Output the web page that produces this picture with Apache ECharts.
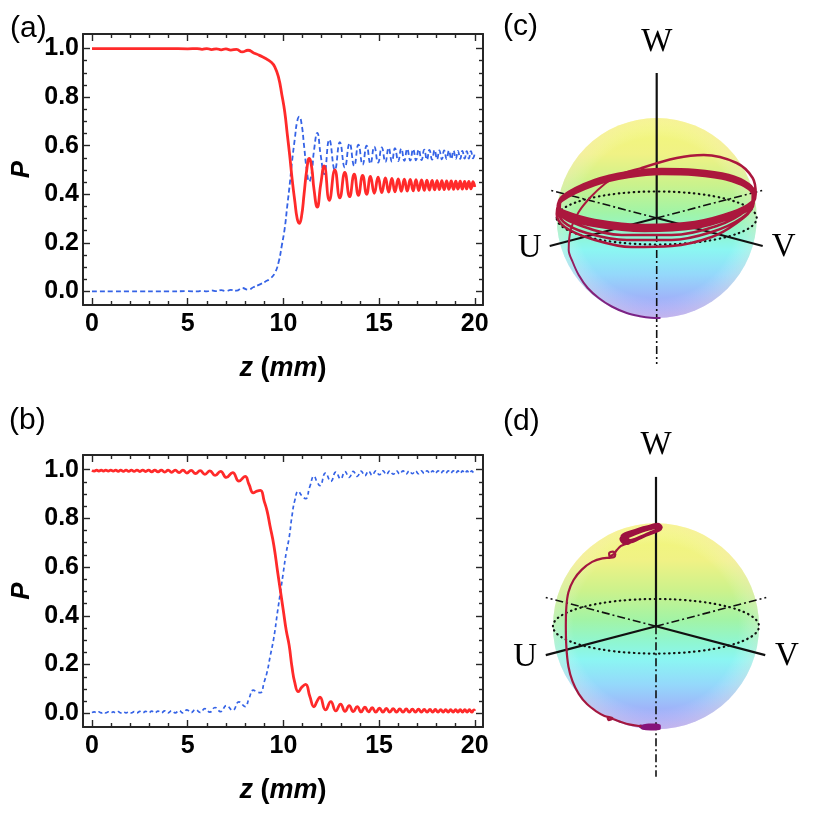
<!DOCTYPE html>
<html>
<head>
<meta charset="utf-8">
<title>Populations P(z) and Bloch sphere trajectories</title>
<script src="https://cdn.jsdelivr.net/npm/echarts@6.0.0/dist/echarts.min.js"></script>
<style>
  html, body { margin: 0; padding: 0; background: #fff; }
  #chart { width: 830px; height: 829px; }
</style>
</head>
<body>
<div id="chart"></div>
<script>
// ---------- tick values ----------
var zMajor = [0, 5, 10, 15, 20];
var zMinor = [1, 2, 3, 4, 6, 7, 8, 9, 11, 12, 13, 14, 16, 17, 18, 19];
var pMajor = [0, 0.2, 0.4, 0.6, 0.8, 1.0];
var pMinor = [0.05, 0.1, 0.15, 0.25, 0.3, 0.35, 0.45, 0.5, 0.55, 0.65, 0.7, 0.75, 0.85, 0.9, 0.95];

// ---------- panel (a): [z (mm), P] ----------
var redA = [[0,1.0],[2,1.0],[4,1.0],[5,0.999],[5.5,1.0],[5.75,0.997],[6.0,1.0],[6.25,0.996],[6.5,0.999],[6.75,0.995],
  [7.0,0.999],[7.25,0.994],[7.55,0.997],[7.85,0.986],[8.15,0.993],[8.45,0.982],[8.75,0.972],[9.05,0.96],[9.35,0.945],
  [9.55,0.925],[9.75,0.88],[9.92,0.81],[10.07,0.74],[10.2,0.65],[10.33,0.56],[10.46,0.46],[10.6,0.37],[10.72,0.30],
  [10.83,0.28],[10.95,0.31],[11.08,0.40],[11.22,0.50],[11.35,0.548],[11.48,0.51],[11.6,0.42],[11.77,0.347],[11.95,0.44],
  [12.13,0.517],[12.4,0.375],[12.69,0.50],[12.95,0.385],[13.21,0.49],[13.46,0.39],[13.7,0.483],[13.92,0.396],[14.14,0.478],
  [14.35,0.400],[14.55,0.474],[14.75,0.404],[14.95,0.470],[15.14,0.407],[15.33,0.467],[15.5,0.409],[15.67,0.465],[15.83,0.41],
  [16.0,0.463],[16.16,0.412],[16.32,0.462],[16.47,0.413],[16.63,0.461],[16.78,0.414],[16.93,0.460],[17.07,0.415],[17.22,0.459],
  [17.36,0.416],[17.5,0.458],[17.63,0.417],[17.77,0.457],[17.9,0.418],[18.03,0.456],[18.15,0.419],[18.28,0.456],[18.4,0.419],
  [18.53,0.455],[18.65,0.42],[18.77,0.455],[18.89,0.42],[19.01,0.454],[19.12,0.421],[19.24,0.454],[19.35,0.421],[19.47,0.453],
  [19.58,0.422],[19.69,0.453],[19.8,0.422],[19.91,0.452],[20.0,0.43]];
var blueA = [[0,0.0],[2,0.0],[4,0.0],[5,0.001],[5.5,0.0],[5.75,0.003],[6.0,0.0],[6.25,0.004],[6.5,0.001],[6.75,0.005],
  [7.0,0.001],[7.25,0.006],[7.55,0.003],[7.85,0.014],[8.15,0.007],[8.45,0.018],[8.75,0.028],[9.05,0.04],[9.35,0.055],
  [9.55,0.075],[9.75,0.12],[9.92,0.19],[10.07,0.26],[10.2,0.35],[10.33,0.44],[10.46,0.54],[10.6,0.63],[10.72,0.70],
  [10.83,0.72],[10.95,0.69],[11.08,0.60],[11.22,0.50],[11.35,0.452],[11.48,0.49],[11.6,0.58],[11.77,0.653],[11.95,0.56],
  [12.13,0.483],[12.4,0.625],[12.69,0.50],[12.95,0.615],[13.21,0.51],[13.46,0.61],[13.7,0.517],[13.92,0.604],[14.14,0.522],
  [14.35,0.600],[14.55,0.526],[14.75,0.596],[14.95,0.530],[15.14,0.593],[15.33,0.533],[15.5,0.591],[15.67,0.535],[15.83,0.59],
  [16.0,0.537],[16.16,0.588],[16.32,0.538],[16.47,0.587],[16.63,0.539],[16.78,0.586],[16.93,0.540],[17.07,0.585],[17.22,0.541],
  [17.36,0.584],[17.5,0.542],[17.63,0.583],[17.77,0.543],[17.9,0.582],[18.03,0.544],[18.15,0.581],[18.28,0.544],[18.4,0.581],
  [18.53,0.545],[18.65,0.58],[18.77,0.545],[18.89,0.58],[19.01,0.546],[19.12,0.579],[19.24,0.546],[19.35,0.579],[19.47,0.547],
  [19.58,0.578],[19.69,0.547],[19.8,0.578],[19.91,0.548],[20.0,0.57]];

// ---------- panel (b): [z (mm), P] ----------
var redB = [[0,0.997],[0.12,0.994],[0.24,0.998],[0.36,0.994],[0.48,0.998],[0.6,0.994],[0.72,0.998],[0.85,0.994],[0.98,0.998],
  [1.11,0.994],[1.24,0.998],[1.37,0.993],[1.5,0.998],[1.64,0.993],[1.78,0.998],[1.92,0.993],[2.06,0.998],[2.2,0.993],[2.35,0.998],
  [2.5,0.992],[2.65,0.998],[2.8,0.992],[2.96,0.998],[3.12,0.991],[3.28,0.998],[3.45,0.991],[3.62,0.998],[3.8,0.990],[3.98,0.998],
  [4.16,0.989],[4.35,0.998],[4.55,0.988],[4.75,0.998],[4.96,0.986],[5.18,0.997],[5.41,0.984],[5.65,0.996],[5.9,0.981],[6.16,0.995],
  [6.43,0.976],[6.72,0.993],[7.02,0.968],[7.35,0.988],[7.68,0.953],[8.0,0.972],[8.2,0.94],[8.43,0.905],[8.62,0.912],[8.8,0.915],
  [9.0,0.87],[9.15,0.83],[9.3,0.77],[9.5,0.69],[9.7,0.58],[9.85,0.50],[10.0,0.42],[10.15,0.34],[10.3,0.28],[10.45,0.19],
  [10.6,0.125],[10.78,0.089],[10.97,0.108],[11.16,0.119],[11.38,0.07],[11.6,0.027],[11.76,0.05],[11.91,0.066],[12.2,0.014],
  [12.48,0.048],[12.74,0.01],[12.99,0.038],[13.22,0.008],[13.44,0.032],[13.65,0.007],[13.86,0.028],[14.06,0.006],[14.26,0.025],
  [14.45,0.006],[14.64,0.023],[14.83,0.005],[15.02,0.021],[15.2,0.005],[15.38,0.02],[15.56,0.005],[15.74,0.019],[15.91,0.005],
  [16.08,0.018],[16.25,0.005],[16.42,0.018],[16.58,0.005],[16.74,0.017],[16.9,0.005],[17.06,0.017],[17.21,0.005],[17.36,0.016],
  [17.51,0.005],[17.66,0.016],[17.8,0.005],[17.94,0.016],[18.08,0.005],[18.22,0.015],[18.35,0.005],[18.48,0.015],[18.61,0.005],
  [18.74,0.015],[18.87,0.005],[19.0,0.015],[19.12,0.005],[19.24,0.015],[19.36,0.005],[19.48,0.015],[19.6,0.005],[19.72,0.015],
  [19.84,0.005],[19.96,0.014],[20.0,0.01]];
var blueB = [[0,0.003],[0.12,0.006],[0.24,0.002],[0.36,0.006],[0.48,0.002],[0.6,0.006],[0.72,0.002],[0.85,0.006],[0.98,0.002],
  [1.11,0.006],[1.24,0.002],[1.37,0.007],[1.5,0.002],[1.64,0.007],[1.78,0.002],[1.92,0.007],[2.06,0.002],[2.2,0.007],[2.35,0.002],
  [2.5,0.008],[2.65,0.002],[2.8,0.008],[2.96,0.002],[3.12,0.009],[3.28,0.002],[3.45,0.009],[3.62,0.002],[3.8,0.010],[3.98,0.002],
  [4.16,0.011],[4.35,0.002],[4.55,0.012],[4.75,0.002],[4.96,0.014],[5.18,0.003],[5.41,0.016],[5.65,0.004],[5.9,0.019],[6.16,0.005],
  [6.43,0.024],[6.72,0.007],[7.02,0.032],[7.35,0.012],[7.68,0.047],[8.0,0.028],[8.2,0.06],[8.43,0.095],[8.62,0.088],[8.8,0.085],
  [9.0,0.13],[9.15,0.17],[9.3,0.23],[9.5,0.31],[9.7,0.42],[9.85,0.50],[10.0,0.58],[10.15,0.66],[10.3,0.72],[10.45,0.81],
  [10.6,0.875],[10.78,0.911],[10.97,0.892],[11.16,0.881],[11.38,0.93],[11.6,0.973],[11.76,0.95],[11.91,0.934],[12.2,0.986],
  [12.48,0.952],[12.74,0.99],[12.99,0.962],[13.22,0.992],[13.44,0.968],[13.65,0.993],[13.86,0.972],[14.06,0.994],[14.26,0.975],
  [14.45,0.994],[14.64,0.977],[14.83,0.995],[15.02,0.979],[15.2,0.995],[15.38,0.98],[15.56,0.995],[15.74,0.981],[15.91,0.995],
  [16.08,0.982],[16.25,0.995],[16.42,0.982],[16.58,0.995],[16.74,0.983],[16.9,0.995],[17.06,0.983],[17.21,0.995],[17.36,0.984],
  [17.51,0.995],[17.66,0.984],[17.8,0.995],[17.94,0.984],[18.08,0.995],[18.22,0.985],[18.35,0.995],[18.48,0.985],[18.61,0.995],
  [18.74,0.985],[18.87,0.995],[19.0,0.985],[19.12,0.995],[19.24,0.985],[19.36,0.995],[19.48,0.985],[19.6,0.995],[19.72,0.985],
  [19.84,0.995],[19.96,0.986],[20.0,0.99]];

// ---------- Bloch trajectories, projected sphere units [horizontal, vertical] ----------
var trajCAscent = [[0.03,-1.0],[-0.06,-0.998],[-0.17,-0.982],[-0.3,-0.95],[-0.45,-0.885],[-0.58,-0.8],[-0.69,-0.7],
  [-0.78,-0.57],[-0.84,-0.44],[-0.88,-0.32],[-0.86,-0.12],[-0.78,0.06],[-0.66,0.21],[-0.52,0.34],[-0.38,0.43],[-0.15,0.5]];
var trajCLoops = [[-0.15,0.5],[0.2,0.6],[0.47,0.63],[0.8,0.55],[0.96,0.4],[0.99,0.24],[0.9,0.08],[0.6,-0.08],[0.15,-0.17],
  [-0.35,-0.17],[-0.75,-0.08],[-0.97,0.06],
  [-0.96,0.18],[-0.62,0.36],[-0.28,0.44],[0.05,0.47],[0.38,0.46],[0.72,0.41],[0.92,0.32],[0.97,0.22],[0.94,0.13],[0.75,0.03],
  [0.38,-0.07],[-0.12,-0.10],[-0.62,-0.05],[-0.92,0.04],[-0.99,0.1],
  [-0.94,0.22],[-0.62,0.38],[-0.28,0.46],[0.05,0.49],[0.38,0.48],[0.72,0.43],[0.92,0.34],[0.975,0.25],[0.95,0.16],[0.76,0.06],
  [0.38,-0.04],[-0.12,-0.07],[-0.62,-0.02],[-0.93,0.07],[-0.99,0.12],
  [-0.9,0.24],[-0.55,0.39],[-0.1,0.45],[0.35,0.44],[0.75,0.37],[0.96,0.24],[0.95,0.1],[0.8,-0.05],[0.55,-0.19],[0.15,-0.28],
  [-0.25,-0.29],[-0.65,-0.21],[-0.92,-0.09],[-1.0,0.04],
  [-0.95,0.17],[-0.62,0.33],[-0.28,0.41],[0.05,0.44],[0.38,0.43],[0.72,0.38],[0.92,0.29],[0.97,0.19],[0.94,0.10],[0.74,0.0],
  [0.38,-0.10],[-0.12,-0.13],[-0.62,-0.08],[-0.93,0.01],[-0.99,0.08],
  [-0.93,0.2],[-0.62,0.35],[-0.28,0.43],[0.05,0.46],[0.38,0.45],[0.72,0.40],[0.92,0.31],[0.97,0.21],[0.945,0.12],[0.75,0.02],
  [0.38,-0.08],[-0.12,-0.11],[-0.62,-0.06],[-0.92,0.03],[-0.99,0.09],
  [-0.93,0.21],[-0.6,0.37],[-0.2,0.45],[0.25,0.46],[0.65,0.41],[0.93,0.29],[0.97,0.15],[0.85,0.0],[0.55,-0.14],[0.15,-0.22],
  [-0.3,-0.22],[-0.7,-0.15],[-0.93,-0.04],[-0.99,0.1],
  [-0.93,0.21],[-0.62,0.37],[-0.28,0.45],[0.05,0.48],[0.38,0.47],[0.72,0.42],[0.92,0.33],[0.97,0.23],[0.95,0.14],[0.75,0.04],
  [0.38,-0.06],[-0.12,-0.09],[-0.62,-0.04],[-0.92,0.05],[-0.98,0.11]];

var trajDBottom = [[0.03,-0.99],[-0.05,-0.995],[-0.14,-0.98],[-0.07,-0.96],[0.03,-0.965],[0.03,-0.985],[-0.07,-0.985],[-0.15,-0.97]];
var trajDAscent = [[-0.15,-0.97],[-0.25,-0.955],[-0.35,-0.925],[-0.43,-0.895],[-0.47,-0.88],[-0.46,-0.91],[-0.42,-0.895],
  [-0.5,-0.87],[-0.58,-0.825],[-0.67,-0.755],[-0.75,-0.655],[-0.81,-0.535],[-0.85,-0.39],[-0.87,-0.2],[-0.875,0.0],[-0.87,0.19],
  [-0.85,0.33],[-0.8,0.45],[-0.72,0.55],[-0.62,0.625],[-0.52,0.66],[-0.45,0.665],[-0.41,0.67],[-0.395,0.7],[-0.42,0.725],
  [-0.455,0.71],[-0.45,0.68],[-0.41,0.7],[-0.38,0.74],[-0.34,0.78],[-0.3,0.795],[-0.26,0.82],[-0.28,0.855],[-0.32,0.845],
  [-0.31,0.81],[-0.27,0.8],[-0.24,0.83]];
var trajDTop = [[-0.24,0.83],[-0.33,0.86],[-0.2,0.925],[-0.06,0.965],[0.03,0.985],[0.045,0.95],[-0.08,0.895],[-0.22,0.83],
  [-0.31,0.81],[-0.34,0.85],[-0.22,0.91],[-0.1,0.955],[0.02,0.99],[0.05,0.96],[-0.05,0.91],[-0.2,0.845],[-0.31,0.82],
  [-0.33,0.87],[-0.2,0.93],[-0.06,0.97],[0.03,0.975],[0.02,0.935],[-0.12,0.875],[-0.27,0.815],[-0.32,0.835],[-0.2,0.9],
  [-0.05,0.95],[0.04,0.97]];

// ---------- style ----------
var FRAME = '#262626';
var SANS = "'Liberation Sans', Arial, sans-serif";
var SERIF = "'Liberation Serif', 'Times New Roman', serif";
var RED = '#ff2a2a';
var BLUE = '#3563e6';
var TRAJ = '#ab173d';
var Z_MIN = -0.47, Z_MAX = 20.43, P_MIN = -0.056, P_MAX = 1.06;
var S_MIN = -1.65, S_MAX = 1.65;

function xAx(g, pos, ticks, len, labeled, line) {
  return {
    gridIndex: g, type: 'value', position: pos, min: Z_MIN, max: Z_MAX,
    splitLine: { show: false },
    axisLine: { show: line, onZero: false, lineStyle: { color: FRAME, width: 2 } },
    axisTick: { show: true, inside: true, length: len, customValues: ticks, lineStyle: { color: FRAME, width: 1.4 } },
    axisLabel: labeled ? {
      show: true, customValues: ticks, margin: 7, color: '#000',
      fontFamily: SANS, fontWeight: 'bold', fontSize: 25
    } : { show: false },
    name: labeled ? '{i|z }{n|(}{i|mm}{n|)}' : '',
    nameLocation: 'middle', nameGap: 50,
    nameTextStyle: {
      rich: {
        i: { fontFamily: SANS, fontWeight: 'bold', fontStyle: 'italic', fontSize: 27, color: '#000' },
        n: { fontFamily: SANS, fontWeight: 'bold', fontSize: 27, color: '#000' }
      }
    }
  };
}
function yAx(g, pos, ticks, len, labeled, line) {
  return {
    gridIndex: g, type: 'value', position: pos, min: P_MIN, max: P_MAX,
    splitLine: { show: false },
    axisLine: { show: line, onZero: false, lineStyle: { color: FRAME, width: 2 } },
    axisTick: { show: true, inside: true, length: len, customValues: ticks, lineStyle: { color: FRAME, width: 1.4 } },
    axisLabel: labeled ? {
      show: true, customValues: ticks, margin: 4, color: '#000',
      fontFamily: SANS, fontWeight: 'bold', fontSize: 25,
      formatter: function (v) { return v.toFixed(1); }
    } : { show: false },
    name: labeled ? 'P' : '',
    nameLocation: 'middle', nameGap: 48,
    nameTextStyle: { fontFamily: SANS, fontWeight: 'bold', fontStyle: 'italic', fontSize: 26, color: '#000' }
  };
}
function sphereAx(g) {
  return { gridIndex: g, type: 'value', min: S_MIN, max: S_MAX, show: false };
}

var xAxes = [], yAxes = [];
[0, 1].forEach(function (g) {
  xAxes.push(xAx(g, 'bottom', zMajor, 7, true, true));
  xAxes.push(xAx(g, 'bottom', zMinor, 4, false, false));
  xAxes.push(xAx(g, 'top', zMajor, 7, false, true));
  xAxes.push(xAx(g, 'top', zMinor, 4, false, false));
  yAxes.push(yAx(g, 'left', pMajor, 7, true, true));
  yAxes.push(yAx(g, 'left', pMinor, 4, false, false));
  yAxes.push(yAx(g, 'right', pMajor, 7, false, true));
  yAxes.push(yAx(g, 'right', pMinor, 4, false, false));
});
xAxes.push(sphereAx(2), sphereAx(3));
yAxes.push(sphereAx(2), sphereAx(3));

// Bloch sphere body, equator, axes and axis letters, placed by the hidden sphere axes
var sphereFill = new echarts.graphic.LinearGradient(0, 0, 0, 1, [
  { offset: 0, color: '#f3f879' }, { offset: 0.18, color: '#f0f285' }, { offset: 0.33, color: '#cbf28c' },
  { offset: 0.47, color: '#a2f4a6' }, { offset: 0.58, color: '#8ff6d2' }, { offset: 0.66, color: '#8bf6f2' },
  { offset: 0.78, color: '#94d9fb' }, { offset: 0.9, color: '#9fb4f9' }, { offset: 1, color: '#a79bf7' }
]);
var sphereEdge = new echarts.graphic.RadialGradient(0.5, 0.5, 0.5, [
  { offset: 0, color: 'rgba(255,255,255,0)' }, { offset: 0.8, color: 'rgba(255,255,255,0)' },
  { offset: 1, color: 'rgba(255,232,215,0.32)' }
]);
function renderSphere(params, api) {
  var o = api.coord([0, 0]);
  var r = api.size([1, 1])[0];
  function seg(a, b, dash) {
    var p = api.coord(a), q = api.coord(b);
    return {
      type: 'line', shape: { x1: p[0], y1: p[1], x2: q[0], y2: q[1] },
      style: { stroke: '#111', lineWidth: dash ? 1.6 : 2.2, lineDash: dash ? [8, 3, 2, 3] : null }
    };
  }
  function letter(t, at) {
    var p = api.coord(at);
    return {
      type: 'text', x: p[0], y: p[1],
      style: { text: t, fill: '#000', fontFamily: SERIF, fontSize: 33, align: 'center', verticalAlign: 'middle' }
    };
  }
  return {
    type: 'group',
    children: [
      { type: 'circle', shape: { cx: o[0], cy: o[1], r: r }, style: { fill: sphereFill } },
      { type: 'circle', shape: { cx: o[0], cy: o[1], r: r }, style: { fill: sphereEdge } },
      seg([0, 0], [1.07, 0.28], true),
      seg([0, 0], [-1.07, 0.28], true),
      seg([0, 0], [0, -1.46], true),
      {
        type: 'ellipse', shape: { cx: o[0], cy: o[1], rx: r * 1.0, ry: r * 0.265 },
        style: { fill: 'none', stroke: '#111', lineWidth: 2.2, lineDash: [0.5, 4.5], lineCap: 'round' }
      },
      seg([0, 0], [0, 1.45], false),
      seg([0, 0], [-1.07, -0.28], false),
      seg([0, 0], [1.06, -0.28], false),
      letter('W', [0, 1.76]),
      letter('U', [-1.27, -0.3]),
      letter('V', [1.27, -0.29])
    ]
  };
}

function trajLine(g, data, color, width) {
  return {
    type: 'line', xAxisIndex: 8 + g, yAxisIndex: 8 + g, data: data, smooth: 0.35,
    showSymbol: false, clip: false, silent: true, z: 4,
    lineStyle: { color: color, width: width, cap: 'round', join: 'round' }
  };
}
var ascentColor = new echarts.graphic.LinearGradient(0, 1, 0, 0, [
  { offset: 0, color: '#78248a' }, { offset: 0.3, color: '#8c1f6c' }, { offset: 0.55, color: TRAJ }, { offset: 1, color: TRAJ }
]);

var option = {
  animation: false,
  backgroundColor: '#fff',
  grid: [
    { left: 83, top: 34, width: 400, height: 271 },
    { left: 83, top: 455, width: 400, height: 272 },
    { left: 491.7, top: 53, width: 330, height: 330 },
    { left: 486, top: 456.3, width: 340, height: 340 }
  ],
  xAxis: xAxes,
  yAxis: yAxes,
  graphic: [
    { type: 'text', left: 10, top: 14, style: { text: '(a)', fontFamily: SANS, fontSize: 30, fill: '#000' } },
    { type: 'text', left: 9, top: 406, style: { text: '(b)', fontFamily: SANS, fontSize: 30, fill: '#000' } },
    { type: 'text', left: 503, top: 12, style: { text: '(c)', fontFamily: SANS, fontSize: 30, fill: '#000' } },
    { type: 'text', left: 503, top: 407, style: { text: '(d)', fontFamily: SANS, fontSize: 30, fill: '#000' } }
  ],
  series: [
    { type: 'line', xAxisIndex: 0, yAxisIndex: 0, data: blueA, smooth: 0.5, showSymbol: false, z: 3,
      lineStyle: { color: BLUE, width: 1.8, type: [5, 3] } },
    { type: 'line', xAxisIndex: 0, yAxisIndex: 0, data: redA, smooth: 0.5, showSymbol: false, z: 4,
      lineStyle: { color: RED, width: 2.8 } },
    { type: 'line', xAxisIndex: 4, yAxisIndex: 4, data: blueB, smooth: 0.5, showSymbol: false, z: 3,
      lineStyle: { color: BLUE, width: 1.7, type: [4, 3] } },
    { type: 'line', xAxisIndex: 4, yAxisIndex: 4, data: redB, smooth: 0.5, showSymbol: false, z: 4,
      lineStyle: { color: RED, width: 2.8 } },
    { type: 'custom', xAxisIndex: 8, yAxisIndex: 8, data: [[0, 0]], renderItem: renderSphere, silent: true, z: 1, clip: false },
    { type: 'custom', xAxisIndex: 9, yAxisIndex: 9, data: [[0, 0]], renderItem: renderSphere, silent: true, z: 1, clip: false },
    trajLine(0, trajCAscent, ascentColor, 2),
    trajLine(0, trajCLoops, TRAJ, 2.5),
    trajLine(1, trajDBottom, '#86127a', 3.5),
    trajLine(1, trajDAscent, '#a3173f', 2.2),
    trajLine(1, trajDTop, '#9c1040', 3.2)
  ]
};

var chart = echarts.init(document.getElementById('chart'));
chart.setOption(option);
</script>
</body>
</html>
